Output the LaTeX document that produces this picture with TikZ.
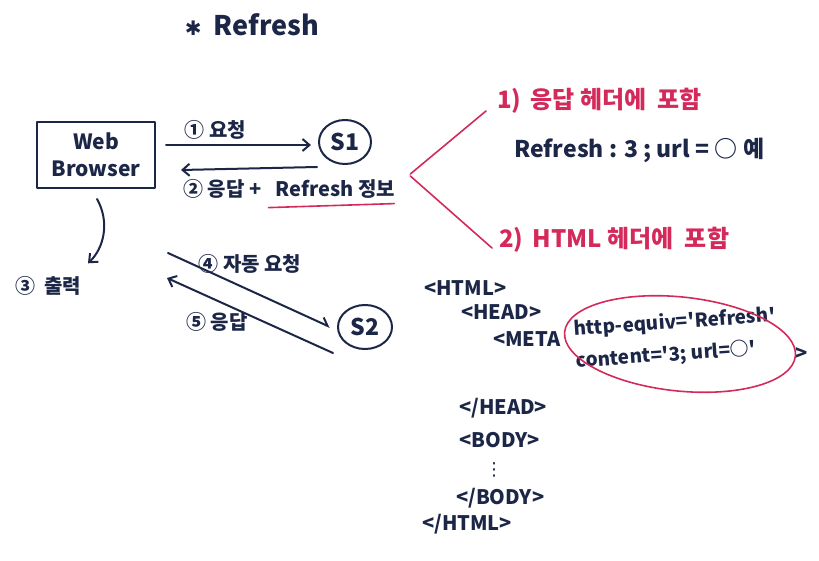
\documentclass[tikz,border=0pt]{standalone}
\usepackage{fontspec}
\usetikzlibrary{arrows.meta, positioning, shapes.geometric, calc}
\newfontfamily\krfont{Noto Sans CJK KR}
\newfontfamily\symfont{DejaVu Sans}
\definecolor{ink}{HTML}{1C2747}
\definecolor{pen}{HTML}{D42A5B}
\tikzset{
  lbl/.style={text=ink, font=\krfont\bfseries\fontsize{20pt}{24pt}\selectfont, inner sep=1pt},
  note/.style={text=pen, font=\krfont\bfseries\fontsize{24pt}{27pt}\selectfont, inner sep=1pt, anchor=west},
  code/.style={text=ink, font=\krfont\bfseries\fontsize{20pt}{24pt}\selectfont, inner sep=1pt, anchor=west},
  box/.style={rectangle, draw=ink, line width=2pt, text=ink,
    minimum width=118pt, minimum height=66pt, align=center,
    font=\krfont\bfseries\fontsize{21pt}{27pt}\selectfont},
  srv/.style={ellipse, draw=ink, line width=2pt, text=ink, inner sep=0pt,
    font=\krfont\bfseries\fontsize{23pt}{26pt}\selectfont},
  arr/.style={draw=ink, line width=2pt, -{Straight Barb[length=7pt, width=12pt]}},
  harr/.style={draw=ink, line width=2pt, -{Straight Barb[left, length=7pt, width=12pt]}},
  redln/.style={draw=pen, line width=1.6pt}
}
\begin{document}
\begin{tikzpicture}[x=1pt, y=-1pt, line cap=round, line join=round]
  \useasboundingbox (0,0) rectangle (819,561);

  % title
  \node[lbl, font=\krfont\bfseries\fontsize{27pt}{30pt}\selectfont] (title) at (252,25)
    {{\symfont\fontsize{20pt}{20pt}\selectfont ✱}\ \ Refresh};

  % browser and servers
  \node[box] (browser) at (96,155) {Web\\Browser};
  \node[srv, minimum width=52pt, minimum height=44pt] (s1) at (345,142) {S1};
  \node[srv, minimum width=54pt, minimum height=44pt] (s2) at (365,327) {S2};
  \node[lbl] (out) at (48,286) {③\ \ 출력};
  \coordinate (cli) at (167,265);

  % 1 / 2
  \draw[arr] ([shift={(10,-10)}]browser.east) --
    node[lbl, above=4pt, pos=0.34] (req) {① 요청} ([shift={(-7,3)}]s1.west);
  \draw[arr] ([shift={(-1,25)}]s1.west) -- ([shift={(25,15)}]browser.east);
  \node[lbl, anchor=west] (resp) at (182,189) {② 응답 +};
  \node[lbl, right=12pt of resp] (rinfo) {Refresh 정보};
  \draw[redln] ([shift={(-6,8)}]rinfo.south west) -- ([shift={(-2,4)}]rinfo.south east);

  % 3
  \draw[arr] ([shift={(1,10)}]browser.south) .. controls (110,222) and (104,248) .. ([shift={(40,-12)}]out.north);

  % 4 / 5
  \draw[harr] ([shift={(1,-12)}]cli) --
    node[lbl, above right=0pt and -20pt, pos=0.3] (auto) {④ 자동 요청} ([shift={(-7,0)}]s2.west);
  \draw[arr] ([shift={(-32,26)}]s2.center) --
    node[lbl, below left=2pt and -16pt, pos=0.6] (resp2) {⑤ 응답} ([shift={(0,13)}]cli);

  % notes
  \node[note] (note1) at (496,101) {1)\, 응답 헤더에 \ 포함};
  \node[code, font=\krfont\bfseries\fontsize{23pt}{26pt}\selectfont] (hdr) at (513,150) {Refresh : 3 ; url = ○ 예};
  \node[note] (note2) at (498,240) {2)\, HTML 헤더에 \ 포함};
  \draw[redln] ([shift={(-10,10)}]note1.west) -- ([shift={(14,-15)}]rinfo.east);
  \draw[redln] ([shift={(14,-13)}]rinfo.east) -- ([shift={(-6,8)}]note2.west);

  % html block
  \node[code] (htmlopen)  at (423,288) {<HTML>};
  \node[code] (headopen)  at (460,312) {<HEAD>};
  \node[code] (metaopen)  at (492,339) {<META};
  \node[code, align=left, rotate=4, font=\krfont\bfseries\fontsize{19pt}{32pt}\selectfont] (meta) at (574,346)
    {http-equiv='Refresh'\\content='3; url=○'};
  \node[code] (metaclose) at (794,354) {>};
  \draw[redln] ([shift={(106,-2)}]meta.west) ellipse [x radius=116, y radius=47, rotate=-6];
  \node[code] (headclose) at (458,408) {</HEAD>};
  \node[code] (bodyopen)  at (458,440) {<BODY>};
  \node[code, font=\symfont\fontsize{18pt}{20pt}\selectfont] (dots) at (484,470) {⋮};
  \node[code] (bodyclose) at (455,498) {</BODY>};
  \node[code] (htmlclose) at (421,524) {</HTML>};
\end{tikzpicture}
\end{document}
